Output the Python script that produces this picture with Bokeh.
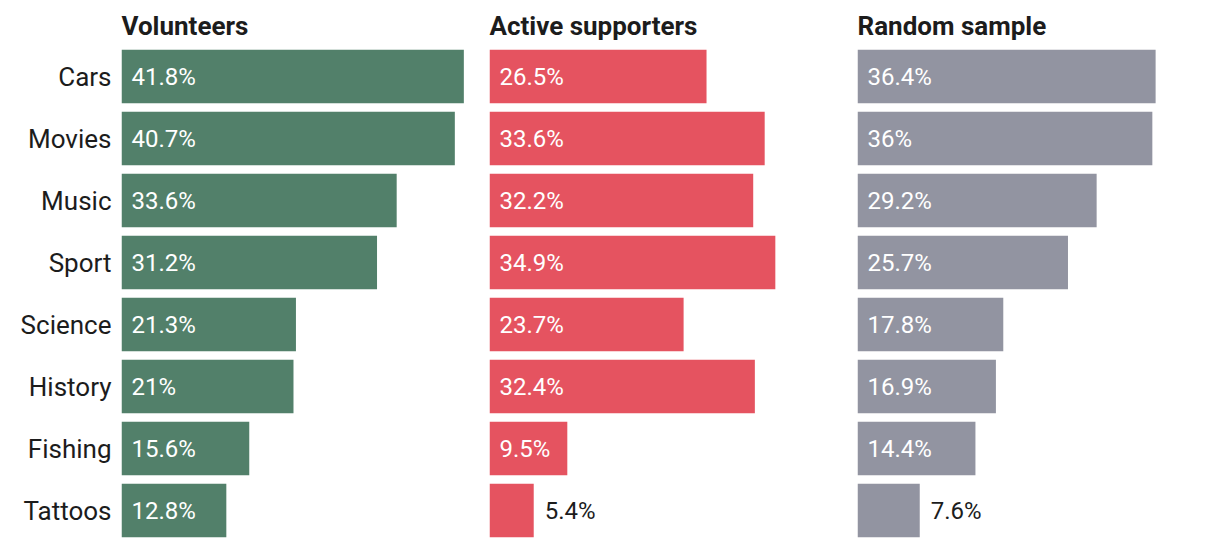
from bokeh.plotting import figure
from bokeh.layouts import row
from bokeh.models import ColumnDataSource, Range1d, FactorRange
from bokeh.embed import file_html
from bokeh.resources import INLINE
from bokeh.core.properties import value

categories = ["Cars", "Movies", "Music", "Sport", "Science", "History", "Fishing", "Tattoos"]
volunteers = [41.8, 40.7, 33.6, 31.2, 21.3, 21.0, 15.6, 12.8]
active_supporters = [26.5, 33.6, 32.2, 34.9, 23.7, 32.4, 9.5, 5.4]
random_sample = [36.4, 36.0, 29.2, 25.7, 17.8, 16.9, 14.4, 7.6]
titles = ["Volunteers", "Active supporters", "Random sample"]
colors = ["#52806a", "#e55360", "#9294a1"]

PX_PER_UNIT = 8.19
FONT = "Roboto"
DARK = "#1c1c1c"


def panel(title, vals, color, width, left_border, show_axis):
    frame_w = width - left_border
    p = figure(
        y_range=FactorRange(*reversed(categories), range_padding=0),
        x_range=Range1d(0, frame_w / PX_PER_UNIT),
        width=width, height=541,
        output_backend="svg", toolbar_location=None,
        min_border_left=left_border, min_border_right=0,
        min_border_top=45, min_border_bottom=0,
        title=title,
    )
    p.title.text_font = FONT
    p.title.text_font_size = "26px"
    p.title.text_font_style = "bold"
    p.title.text_color = DARK
    p.title.align = "left"
    p.title.offset = 0
    p.title.standoff = 10
    p.xaxis.visible = False
    p.xgrid.visible = False
    p.ygrid.visible = False
    p.outline_line_color = None
    p.background_fill_color = None
    p.border_fill_color = None
    if show_axis:
        ax = p.yaxis[0]
        ax.axis_line_color = None
        ax.major_tick_line_color = None
        ax.minor_tick_line_color = None
        ax.major_tick_out = 0
        ax.major_tick_in = 0
        ax.major_label_standoff = 10
        ax.major_label_text_font = FONT
        ax.major_label_text_font_size = "26px"
        ax.major_label_text_color = DARK
    else:
        p.yaxis.visible = False

    inside = [v >= 8 for v in vals]
    src_in = ColumnDataSource(dict(
        cat=[c for c, ok in zip(categories, inside) if ok],
        v=[v for v, ok in zip(vals, inside) if ok],
        lbl=[f"{v:g}%" for v, ok in zip(vals, inside) if ok],
        x0=[0 for ok in inside if ok],
    ))
    src_out = ColumnDataSource(dict(
        cat=[c for c, ok in zip(categories, inside) if not ok],
        v=[v for v, ok in zip(vals, inside) if not ok],
        lbl=[f"{v:g}%" for v, ok in zip(vals, inside) if not ok],
    ))
    src_all = ColumnDataSource(dict(cat=categories, v=vals))
    p.hbar(y="cat", right="v", left=0, height=0.86, source=src_all,
           fill_color=color, line_color=None)
    p.text(x="x0", y="cat", text="lbl", source=src_in, x_offset=10,
           text_baseline="middle", text_align="left",
           text_font=value(FONT), text_font_size="24px", text_color="white")
    p.text(x="v", y="cat", text="lbl", source=src_out, x_offset=11,
           text_baseline="middle", text_align="left",
           text_font=value(FONT), text_font_size="24px", text_color=DARK)
    return p


p1 = panel(titles[0], volunteers, colors[0], 489, 121, True)
p2 = panel(titles[1], active_supporters, colors[1], 368, 0, False)
p3 = panel(titles[2], random_sample, colors[2], 355, 0, False)

layout = row(p1, p2, p3, spacing=0)
open("out.html", "w").write(file_html(layout, INLINE))
